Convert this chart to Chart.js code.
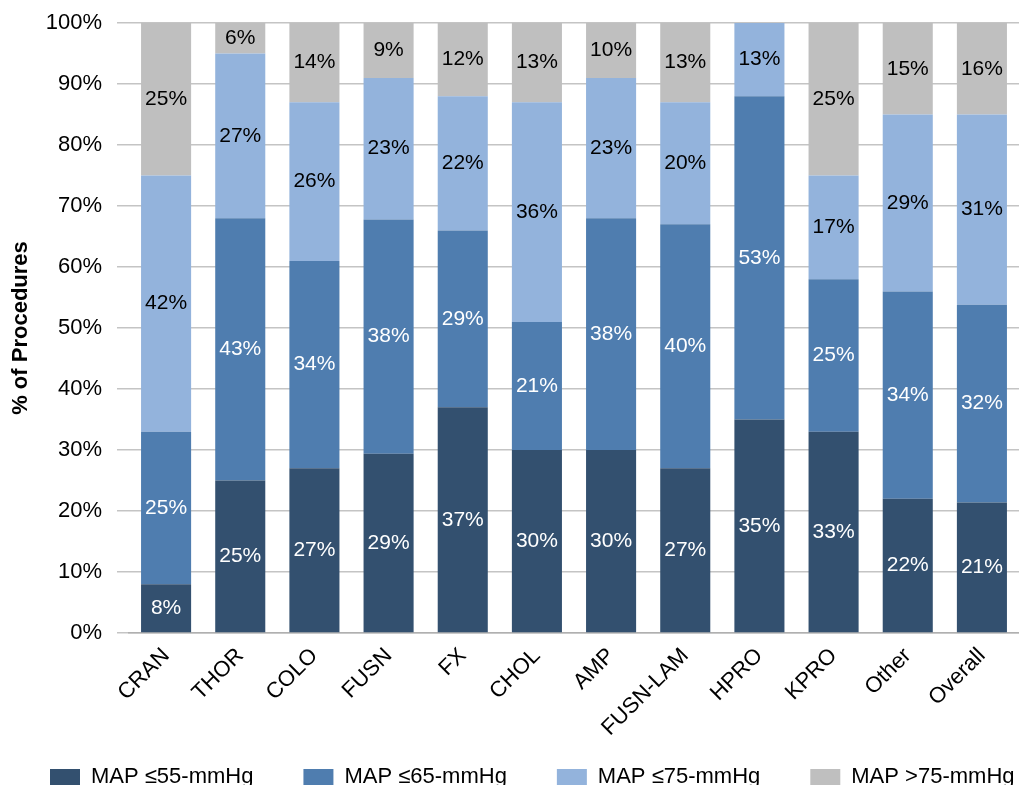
<!DOCTYPE html>
<html>
<head>
<meta charset="utf-8">
<script src="https://cdn.jsdelivr.net/npm/chart.js@4"></script>
<style>
  body { margin: 0; overflow: hidden; background: #fff; }
  #wrap { width: 1100px; height: 798px; }
</style>
</head>
<body>
<div id="wrap"><canvas id="myChart" width="1100" height="798"></canvas></div>
<script>
// categorias y valores (% de procedimientos)
const categorias = ['CRAN', 'THOR', 'COLO', 'FUSN', 'FX', 'CHOL', 'AMP', 'FUSN-LAM', 'HPRO', 'KPRO', 'Other', 'Overall'];
const series = ['MAP \u226455-mmHg', 'MAP \u226465-mmHg', 'MAP \u226475-mmHg', 'MAP >75-mmHg'];
const map55 = [8, 25, 27, 29.4, 37, 30, 30, 27, 35, 33, 22, 21.4];
const map65 = [25, 43, 34, 38.4, 29, 21, 38, 40, 53, 25, 34, 32.4];
const map75 = [42, 27, 26, 23.2, 22, 36, 23, 20, 13, 17, 29, 31.2];
const map75mas = [25, 5.6, 13.6, 9, 12, 13, 9.5, 13, 0, 25, 15, 15.6];
const yTicks = [0, 10, 20, 30, 40, 50, 60, 70, 80, 90, 100];

const colores = ['#33506f', '#4f7daf', '#93b3dc', '#bfbfbf'];
const colorTexto = ['#ffffff', '#ffffff', '#000000', '#000000'];
const fuente = "'Liberation Sans', Arial, sans-serif";

Chart.defaults.font.family = fuente;
Chart.defaults.color = '#000';

// etiquetas de porcentaje dentro de cada segmento
const etiquetas = {
    id: 'etiquetas',
    afterLayout(chart) {
        // que las etiquetas giradas del eje x no se recorten
        chart.scales.x.bottom = chart.height;
    },
    afterDatasetsDraw(chart) {
        const ctx = chart.ctx;
        const area = chart.chartArea;
        ctx.save();
        ctx.font = '21px ' + fuente;
        ctx.textAlign = 'center';
        ctx.textBaseline = 'middle';
        chart.data.datasets.forEach((ds, i) => {
            const meta = chart.getDatasetMeta(i);
            meta.data.forEach((bar, j) => {
                const v = ds.data[j];
                if (!v) return;
                const top = Math.max(bar.y, area.top);
                const yc = (top + bar.base) / 2;
                ctx.fillStyle = colorTexto[i];
                ctx.fillText(Math.round(v) + '%', bar.x, yc);
            });
        });
        ctx.restore();
    }
};

const datos = [map55, map65, map75, map75mas];

const ctx = document.getElementById('myChart').getContext('2d');
const myChart = new Chart(ctx, {
    type: 'bar',
    data: {
        labels: categorias,
        datasets: datos.map((d, i) => ({
            label: series[i],
            data: d,
            backgroundColor: colores[i],
            borderWidth: 0,
            barPercentage: 0.675,
            categoryPercentage: 1
        }))
    },
    options: {
        responsive: false,
        animation: false,
        devicePixelRatio: 1,
        layout: { padding: { top: 23, left: 0, right: 0, bottom: 0 } },
        plugins: {
            tooltip: { enabled: false },
            legend: {
                position: 'bottom',
                align: 'start',
                labels: {
                    boxWidth: 30,
                    boxHeight: 16,
                    padding: 50,
                    color: '#000',
                    font: { size: 22 }
                }
            }
        },
        scales: {
            x: {
                stacked: true,
                grid: { display: false, drawTicks: false },
                border: { display: true, color: '#b0b0b0', width: 1.5 },
                ticks: {
                    maxRotation: 45,
                    minRotation: 45,
                    padding: 10,
                    color: '#000',
                    font: { size: 22 }
                },
                afterFit(scale) { scale.height = 83; }
            },
            y: {
                stacked: true,
                min: 0,
                max: 100,
                afterBuildTicks(scale) { scale.ticks = yTicks.map(v => ({ value: v })); },
                grid: { color: '#c4c4c4', lineWidth: 1.5, tickLength: 12, tickColor: '#c4c4c4' },
                border: { display: false },
                ticks: {
                    padding: 15,
                    color: '#000',
                    font: { size: 22 },
                    callback: v => v + '%'
                },
                title: {
                    display: true,
                    text: '% of Procedures',
                    color: '#000',
                    font: { size: 22, weight: 'bold' },
                    padding: { top: 8, bottom: 0 }
                },
                afterFit(scale) {
                    scale.width = 129;
                    scale.paddingTop = 0;
                    scale.paddingBottom = 0;
                }
            },
            derecha: {
                type: 'linear',
                position: 'right',
                grid: { display: false, drawTicks: false },
                border: { display: false },
                ticks: { display: false },
                afterFit(scale) { scale.width = 81; }
            }
        }
    },
    plugins: [etiquetas]
});
</script>
</body>
</html>
